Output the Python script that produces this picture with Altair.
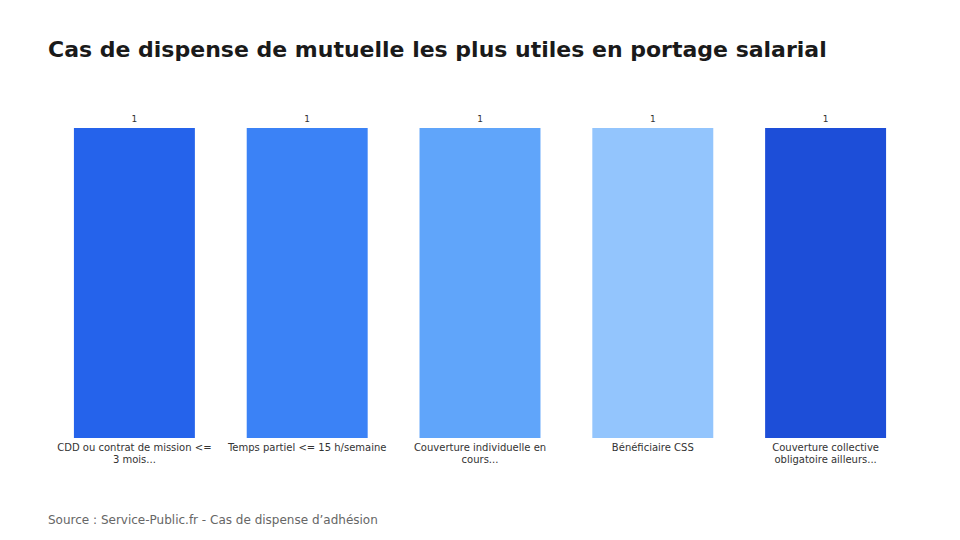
import altair as alt
import pandas as pd

categories = [
    "CDD ou contrat de mission <= 3 mois...",
    "Temps partiel <= 15 h/semaine",
    "Couverture individuelle en cours...",
    "Bénéficiaire CSS",
    "Couverture collective obligatoire ailleurs...",
]
label_lines = [
    ["CDD ou contrat de mission <=", "3 mois..."],
    ["Temps partiel <= 15 h/semaine"],
    ["Couverture individuelle en", "cours..."],
    ["Bénéficiaire CSS"],
    ["Couverture collective", "obligatoire ailleurs..."],
]
values = [1, 1, 1, 1, 1]
colors = ["#2563EB", "#3B82F6", "#60A5FA", "#93C5FD", "#1D4ED8"]

df = pd.DataFrame({"cat": categories, "value": values})

def js_str(s):
    return "'" + s.replace("\\", "\\\\").replace("'", "\\'") + "'"

label_map = "{" + ", ".join(
    js_str(c) + ": [" + ", ".join(js_str(l) for l in lines) + "]"
    for c, lines in zip(categories, label_lines)
) + "}"
label_expr = label_map + "[datum.label]"

FONT = "DejaVu Sans"

x = alt.X(
    "cat:N",
    sort=categories,
    scale=alt.Scale(paddingInner=0.3, paddingOuter=0.15),
    axis=alt.Axis(
        title=None, labelAngle=0, domain=False, ticks=False,
        labelExpr=label_expr, labelFont=FONT, labelFontSize=10,
        labelColor="#333333", labelPadding=4, labelLineHeight=12,
        labelLimit=0, labelBaseline="top",
    ),
)
y = alt.Y("value:Q", scale=alt.Scale(domain=[0, 1]), axis=None)

bars = alt.Chart(df).mark_bar().encode(
    x=x, y=y,
    color=alt.Color("cat:N", sort=categories,
                    scale=alt.Scale(domain=categories, range=colors), legend=None),
)
labels = alt.Chart(df).mark_text(
    dy=-9, font=FONT, fontSize=9, color="#333333"
).encode(x=x, y=y, text="value:Q")

source = alt.Chart(pd.DataFrame({"t": ["Source : Service-Public.fr - Cas de dispense d\u2019adhésion"]})).mark_text(
    align="left", baseline="middle", font=FONT, fontSize=12, color="#666666"
).encode(x=alt.value(0), y=alt.value(82 + 310), text="t:N")

chart = alt.layer(bars, labels, source).properties(
    width=864, height=310,
    background="white",
    padding={"left": 48, "top": 128, "right": 48, "bottom": 102},
    autosize=alt.AutoSizeParams(type="none"),
    title=alt.TitleParams(
        "Cas de dispense de mutuelle les plus utiles en portage salarial",
        anchor="start", font=FONT, fontSize=22, fontWeight="bold",
        color="#1a1a1a", offset=53, frame="group",
    ),
).configure_view(strokeWidth=0, stroke=None)

chart.save("out.html", embed_options={"renderer": "svg", "actions": False})
